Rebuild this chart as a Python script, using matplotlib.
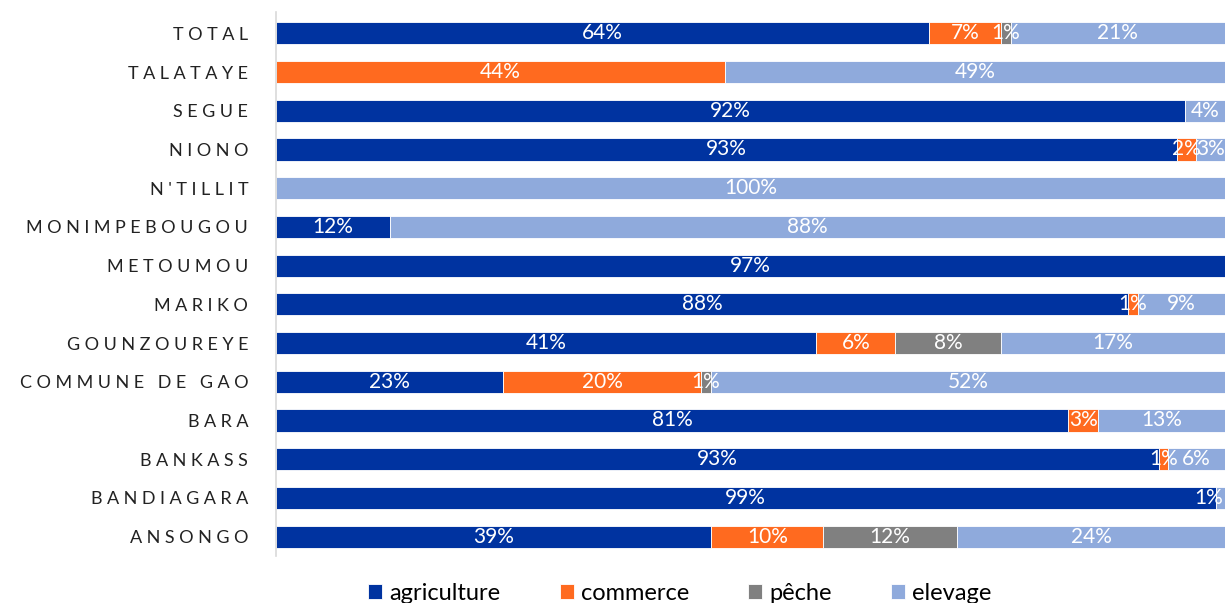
import matplotlib.pyplot as plt
import numpy as np

plt.rcParams['font.family'] = ['Lato', 'DejaVu Sans']

communes = ["ANSONGO", "BANDIAGARA", "BANKASS", "BARA", "COMMUNE DE GAO",
            "GOUNZOUREYE", "MARIKO", "METOUMOU", "MONIMPEBOUGOU", "N'TILLIT",
            "NIONO", "SEGUE", "TALATAYE", "TOTAL"]
agriculture = [39, 99, 93, 81, 23, 41, 88, 97, 12, 0, 93, 92, 0, 64]
commerce = [10, 0, 1, 3, 20, 6, 1, 0, 0, 0, 2, 0, 44, 7]
peche = [12, 0, 0, 0, 1, 8, 0, 0, 0, 0, 0, 0, 0, 1]
elevage = [24, 1, 6, 13, 52, 17, 9, 0, 88, 100, 3, 4, 49, 21]

series = [("agriculture", agriculture, "#0033A0"),
          ("commerce", commerce, "#FF6A1F"),
          ("pêche", peche, "#808080"),
          ("elevage", elevage, "#8FAADC")]

vals = np.array([s[1] for s in series], dtype=float)
totals = vals.sum(axis=0)
shares = vals / totals  # each bar filled to 100%

fig = plt.figure(figsize=(12.25, 6.03), dpi=100)
ax = fig.add_axes([0.2253, 0.078, 0.7747, 0.902])

y = np.arange(len(communes))
left = np.zeros(len(communes))
for (name, v, color), sh in zip(series, shares):
    ax.barh(y, sh, left=left, height=0.57, color=color,
            edgecolor="white", linewidth=0.6, label=name)
    for yi, l, w, raw in zip(y, left, sh, v):
        if raw > 0:
            xc, ha = l + w / 2, "center"
            if xc > 0.985:  # keep the label inside the right edge
                xc, ha = 0.998, "right"
            ax.text(xc, yi, f"{raw}%", ha=ha, va="center",
                    color="white", fontsize=15)
    left += sh

ax.set_xlim(0, 1)
ax.set_ylim(-0.5, 13.55)
ax.set_yticks(y)
ax.set_yticklabels(["\u2009\u2009".join(c) for c in communes], fontsize=13,
                   color="#222222")
ax.tick_params(axis="y", length=0, pad=20)
ax.set_xticks([])
for s in ["top", "right", "bottom"]:
    ax.spines[s].set_visible(False)
ax.spines["left"].set_color("#d9d9d9")
ax.spines["left"].set_linewidth(1.2)

fig.legend(loc="lower center", bbox_to_anchor=(0.555, -0.037), ncol=4,
           frameon=False, fontsize=17, handlelength=0.6, handleheight=0.6,
           handletextpad=0.3, columnspacing=2.5)

fig.savefig("out.png", dpi=100)
